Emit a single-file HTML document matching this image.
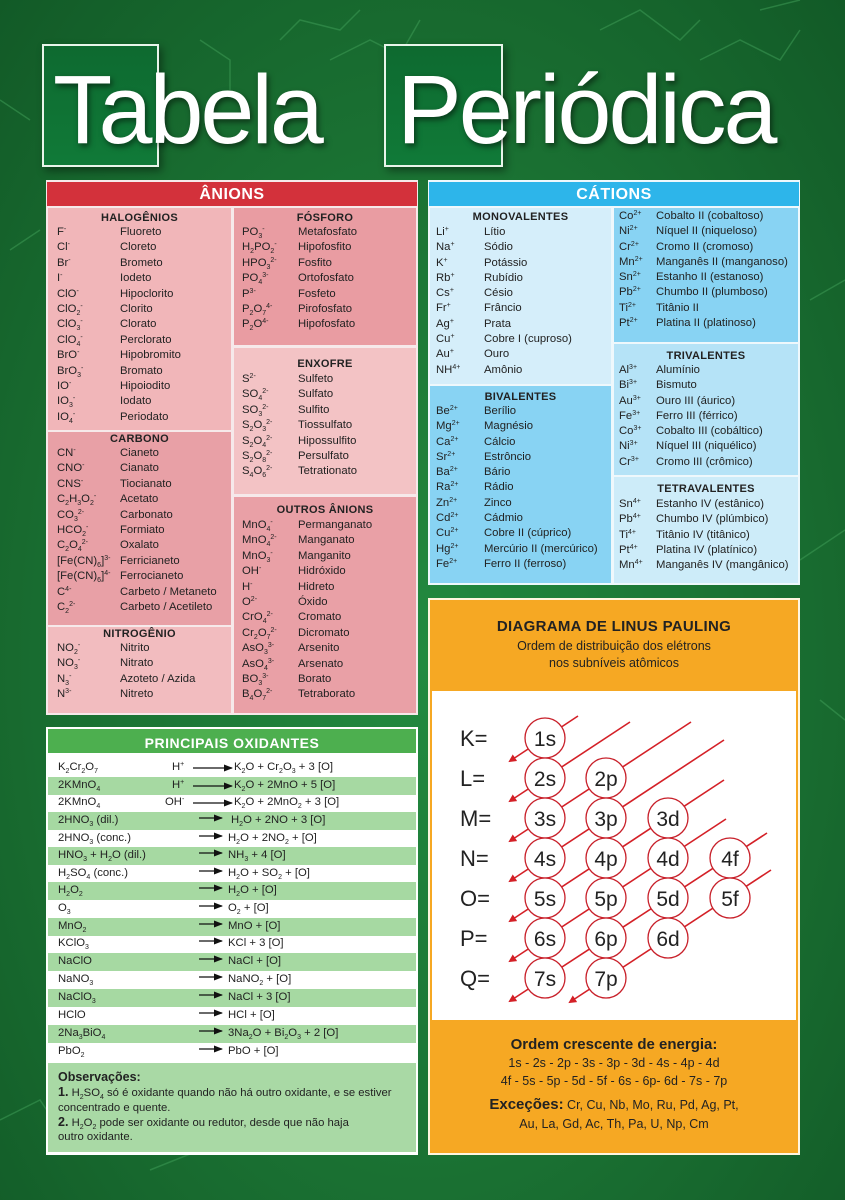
<!DOCTYPE html>
<html><head><meta charset="utf-8"><style>
*{margin:0;padding:0;box-sizing:border-box}
body{width:845px;height:1200px;position:relative;overflow:hidden;font-family:"Liberation Sans",Arial,sans-serif;color:#222;
background:radial-gradient(ellipse at 50% 55%,#238a40 0%,#1c7635 45%,#125a27 100%)}
.abs{position:absolute}
.box{position:absolute}
.col{position:absolute;font-size:11.3px;line-height:15.4px;white-space:nowrap}
.col div{display:flex}
.col div span:first-child{display:inline-block}
.ttl{position:absolute;font-weight:bold;font-size:11px;text-align:center;letter-spacing:.3px;color:#222}
sub{font-size:7px;vertical-align:-3px;line-height:0}
sup{font-size:7px;vertical-align:4px;line-height:0}
.hdr{position:absolute;color:#fff;font-weight:bold;text-align:center;font-size:16px;letter-spacing:.5px}
.ox{position:absolute;left:48px;width:368px;height:17.6px;font-size:11.3px;line-height:17.6px;white-space:nowrap}
.ox.g{background:#a6d9a2}
.ox span{position:absolute}
.t1{position:absolute;color:#fff;font-size:97px;letter-spacing:-3px;line-height:1;text-shadow:2px 3px 6px rgba(0,0,0,.5)}
</style></head><body>
<svg class="abs" style="left:0;top:0" width="845" height="1200">
<g stroke="#3e9a55" stroke-width="1.5" fill="none" opacity=".55">
<path d="M280 40 L300 20 L340 30 L360 10 M330 60 L370 40 L400 55 L420 20"/>
<path d="M600 30 L640 10 L680 40 L700 20 M700 60 L740 40 L780 60 L800 30 M760 10 L800 0"/>
<path d="M0 100 L30 120 M10 250 L40 230"/>
<path d="M810 300 L845 280 M800 560 L845 530 M820 700 L845 720"/>
<path d="M0 1120 L40 1100 L60 1130 M150 1170 L200 1150"/>
<path d="M200 40 L230 60 L230 90"/>
</g>
</svg>
<div class="box" style="left:42px;top:44px;width:117px;height:123px;background:linear-gradient(#0e6a30,#107a38);border:2px solid #e8f5ea;box-shadow:3px 4px 8px rgba(0,0,0,.4)"></div>
<div class="box" style="left:384px;top:44px;width:119px;height:123px;background:linear-gradient(#0e6a30,#107a38);border:2px solid #e8f5ea;box-shadow:3px 4px 8px rgba(0,0,0,.4)"></div>
<div class="t1" style="left:53px;top:61px">Tabela</div>
<div class="t1" style="left:397px;top:61px">Periódica</div>

<div class="box" style="left:46px;top:180px;width:372px;height:535px;background:#f6e9ea"></div>
<div class="box" style="left:47px;top:182px;width:370px;height:24px;background:#d3313b"></div>
<div class="hdr" style="left:47px;top:186px;width:370px">ÂNIONS</div>
<div class="box" style="left:48px;top:208px;width:183px;height:222px;background:#f1b6b9"></div>
<div class="box" style="left:48px;top:432px;width:183px;height:193px;background:#e8a0a6"></div>
<div class="box" style="left:48px;top:627px;width:183px;height:86px;background:#f2bcbf"></div>
<div class="box" style="left:234px;top:208px;width:182px;height:137px;background:#e99ca2"></div>
<div class="box" style="left:234px;top:348px;width:182px;height:146px;background:#f3c3c5"></div>
<div class="box" style="left:234px;top:497px;width:182px;height:216px;background:#e9a0a6"></div>
<div class="ttl" style="left:48px;width:183px;top:212px">HALOGÊNIOS</div>
<div class="ttl" style="left:234px;width:182px;top:212px">FÓSFORO</div>
<div class="ttl" style="left:234px;width:182px;top:358px">ENXOFRE</div>
<div class="ttl" style="left:48px;width:183px;top:433px">CARBONO</div>
<div class="ttl" style="left:48px;width:183px;top:628px">NITROGÊNIO</div>
<div class="ttl" style="left:234px;width:182px;top:504px">OUTROS ÂNIONS</div>

<div class="col" style="left:57px;top:225px">
<div><span style="width:63px">F<sup>-</sup></span><span>Fluoreto</span></div>
<div><span style="width:63px">Cl<sup>-</sup></span><span>Cloreto</span></div>
<div><span style="width:63px">Br<sup>-</sup></span><span>Brometo</span></div>
<div><span style="width:63px">I<sup>-</sup></span><span>Iodeto</span></div>
<div><span style="width:63px">ClO<sup>-</sup></span><span>Hipoclorito</span></div>
<div><span style="width:63px">ClO<sub>2</sub><sup>-</sup></span><span>Clorito</span></div>
<div><span style="width:63px">ClO<sub>3</sub><sup>-</sup></span><span>Clorato</span></div>
<div><span style="width:63px">ClO<sub>4</sub><sup>-</sup></span><span>Perclorato</span></div>
<div><span style="width:63px">BrO<sup>-</sup></span><span>Hipobromito</span></div>
<div><span style="width:63px">BrO<sub>3</sub><sup>-</sup></span><span>Bromato</span></div>
<div><span style="width:63px">IO<sup>-</sup></span><span>Hipoiodito</span></div>
<div><span style="width:63px">IO<sub>3</sub><sup>-</sup></span><span>Iodato</span></div>
<div><span style="width:63px">IO<sub>4</sub><sup>-</sup></span><span>Periodato</span></div>
</div>
<div class="col" style="left:57px;top:446px">
<div><span style="width:63px">CN<sup>-</sup></span><span>Cianeto</span></div>
<div><span style="width:63px">CNO<sup>-</sup></span><span>Cianato</span></div>
<div><span style="width:63px">CNS<sup>-</sup></span><span>Tiocianato</span></div>
<div><span style="width:63px">C<sub>2</sub>H<sub>3</sub>O<sub>2</sub><sup>-</sup></span><span>Acetato</span></div>
<div><span style="width:63px">CO<sub>3</sub><sup>2-</sup></span><span>Carbonato</span></div>
<div><span style="width:63px">HCO<sub>2</sub><sup>-</sup></span><span>Formiato</span></div>
<div><span style="width:63px">C<sub>2</sub>O<sub>4</sub><sup>2-</sup></span><span>Oxalato</span></div>
<div><span style="width:63px">[Fe(CN)<sub>6</sub>]<sup>3-</sup></span><span>Ferricianeto</span></div>
<div><span style="width:63px">[Fe(CN)<sub>6</sub>]<sup>4-</sup></span><span>Ferrocianeto</span></div>
<div><span style="width:63px">C<sup>4-</sup></span><span>Carbeto / Metaneto</span></div>
<div><span style="width:63px">C<sub>2</sub><sup>2-</sup></span><span>Carbeto / Acetileto</span></div>
</div>
<div class="col" style="left:57px;top:641px">
<div><span style="width:63px">NO<sub>2</sub><sup>-</sup></span><span>Nitrito</span></div>
<div><span style="width:63px">NO<sub>3</sub><sup>-</sup></span><span>Nitrato</span></div>
<div><span style="width:63px">N<sub>3</sub><sup>-</sup></span><span>Azoteto / Azida</span></div>
<div><span style="width:63px">N<sup>3-</sup></span><span>Nitreto</span></div>
</div>
<div class="col" style="left:242px;top:225px">
<div><span style="width:56px">PO<sub>3</sub><sup>-</sup></span><span>Metafosfato</span></div>
<div><span style="width:56px">H<sub>2</sub>PO<sub>2</sub><sup>-</sup></span><span>Hipofosfito</span></div>
<div><span style="width:56px">HPO<sub>3</sub><sup>2-</sup></span><span>Fosfito</span></div>
<div><span style="width:56px">PO<sub>4</sub><sup>3-</sup></span><span>Ortofosfato</span></div>
<div><span style="width:56px">P<sup>3-</sup></span><span>Fosfeto</span></div>
<div><span style="width:56px">P<sub>2</sub>O<sub>7</sub><sup>4-</sup></span><span>Pirofosfato</span></div>
<div><span style="width:56px">P<sub>2</sub>O<sup>4-</sup></span><span>Hipofosfato</span></div>
</div>
<div class="col" style="left:242px;top:372px">
<div><span style="width:56px">S<sup>2-</sup></span><span>Sulfeto</span></div>
<div><span style="width:56px">SO<sub>4</sub><sup>2-</sup></span><span>Sulfato</span></div>
<div><span style="width:56px">SO<sub>3</sub><sup>2-</sup></span><span>Sulfito</span></div>
<div><span style="width:56px">S<sub>2</sub>O<sub>3</sub><sup>2-</sup></span><span>Tiossulfato</span></div>
<div><span style="width:56px">S<sub>2</sub>O<sub>4</sub><sup>2-</sup></span><span>Hipossulfito</span></div>
<div><span style="width:56px">S<sub>2</sub>O<sub>8</sub><sup>2-</sup></span><span>Persulfato</span></div>
<div><span style="width:56px">S<sub>4</sub>O<sub>6</sub><sup>2-</sup></span><span>Tetrationato</span></div>
</div>
<div class="col" style="left:242px;top:518px">
<div><span style="width:56px">MnO<sub>4</sub><sup>-</sup></span><span>Permanganato</span></div>
<div><span style="width:56px">MnO<sub>4</sub><sup>2-</sup></span><span>Manganato</span></div>
<div><span style="width:56px">MnO<sub>3</sub><sup>-</sup></span><span>Manganito</span></div>
<div><span style="width:56px">OH<sup>-</sup></span><span>Hidróxido</span></div>
<div><span style="width:56px">H<sup>-</sup></span><span>Hidreto</span></div>
<div><span style="width:56px">O<sup>2-</sup></span><span>Óxido</span></div>
<div><span style="width:56px">CrO<sub>4</sub><sup>2-</sup></span><span>Cromato</span></div>
<div><span style="width:56px">Cr<sub>2</sub>O<sub>7</sub><sup>2-</sup></span><span>Dicromato</span></div>
<div><span style="width:56px">AsO<sub>3</sub><sup>3-</sup></span><span>Arsenito</span></div>
<div><span style="width:56px">AsO<sub>4</sub><sup>3-</sup></span><span>Arsenato</span></div>
<div><span style="width:56px">BO<sub>3</sub><sup>3-</sup></span><span>Borato</span></div>
<div><span style="width:56px">B<sub>4</sub>O<sub>7</sub><sup>2-</sup></span><span>Tetraborato</span></div>
</div>

<div class="box" style="left:428px;top:180px;width:372px;height:405px;background:#eef8fc"></div>
<div class="box" style="left:429px;top:182px;width:370px;height:24px;background:#2db5ea"></div>
<div class="hdr" style="left:429px;top:186px;width:370px">CÁTIONS</div>
<div class="box" style="left:430px;top:208px;width:181px;height:176px;background:#d5eefa"></div>
<div class="box" style="left:430px;top:386px;width:181px;height:197px;background:#88d3f3"></div>
<div class="box" style="left:614px;top:208px;width:184px;height:134px;background:#88d3f3"></div>
<div class="box" style="left:614px;top:344px;width:184px;height:131px;background:#b5e3f7"></div>
<div class="box" style="left:614px;top:477px;width:184px;height:106px;background:#cdecf9"></div>
<div class="ttl" style="left:430px;width:181px;top:211px">MONOVALENTES</div>
<div class="ttl" style="left:430px;width:181px;top:391px">BIVALENTES</div>
<div class="ttl" style="left:614px;width:184px;top:350px">TRIVALENTES</div>
<div class="ttl" style="left:614px;width:184px;top:483px">TETRAVALENTES</div>
<div class="col" style="left:436px;top:225px;line-height:15.3px">
<div><span style="width:48px">Li<sup>+</sup></span><span>Lítio</span></div>
<div><span style="width:48px">Na<sup>+</sup></span><span>Sódio</span></div>
<div><span style="width:48px">K<sup>+</sup></span><span>Potássio</span></div>
<div><span style="width:48px">Rb<sup>+</sup></span><span>Rubídio</span></div>
<div><span style="width:48px">Cs<sup>+</sup></span><span>Césio</span></div>
<div><span style="width:48px">Fr<sup>+</sup></span><span>Frâncio</span></div>
<div><span style="width:48px">Ag<sup>+</sup></span><span>Prata</span></div>
<div><span style="width:48px">Cu<sup>+</sup></span><span>Cobre I (cuproso)</span></div>
<div><span style="width:48px">Au<sup>+</sup></span><span>Ouro</span></div>
<div><span style="width:48px">NH<sup>4+</sup></span><span>Amônio</span></div>
</div>
<div class="col" style="left:436px;top:404px;line-height:15.3px">
<div><span style="width:48px">Be<sup>2+</sup></span><span>Berílio</span></div>
<div><span style="width:48px">Mg<sup>2+</sup></span><span>Magnésio</span></div>
<div><span style="width:48px">Ca<sup>2+</sup></span><span>Cálcio</span></div>
<div><span style="width:48px">Sr<sup>2+</sup></span><span>Estrôncio</span></div>
<div><span style="width:48px">Ba<sup>2+</sup></span><span>Bário</span></div>
<div><span style="width:48px">Ra<sup>2+</sup></span><span>Rádio</span></div>
<div><span style="width:48px">Zn<sup>2+</sup></span><span>Zinco</span></div>
<div><span style="width:48px">Cd<sup>2+</sup></span><span>Cádmio</span></div>
<div><span style="width:48px">Cu<sup>2+</sup></span><span>Cobre II (cúprico)</span></div>
<div><span style="width:48px">Hg<sup>2+</sup></span><span>Mercúrio II (mercúrico)</span></div>
<div><span style="width:48px">Fe<sup>2+</sup></span><span>Ferro II (ferroso)</span></div>
</div>
<div class="col" style="left:619px;top:209px;line-height:15.3px">
<div><span style="width:37px">Co<sup>2+</sup></span><span>Cobalto II (cobaltoso)</span></div>
<div><span style="width:37px">Ni<sup>2+</sup></span><span>Níquel II (niqueloso)</span></div>
<div><span style="width:37px">Cr<sup>2+</sup></span><span>Cromo II (cromoso)</span></div>
<div><span style="width:37px">Mn<sup>2+</sup></span><span>Manganês II (manganoso)</span></div>
<div><span style="width:37px">Sn<sup>2+</sup></span><span>Estanho II (estanoso)</span></div>
<div><span style="width:37px">Pb<sup>2+</sup></span><span>Chumbo II (plumboso)</span></div>
<div><span style="width:37px">Ti<sup>2+</sup></span><span>Titânio II</span></div>
<div><span style="width:37px">Pt<sup>2+</sup></span><span>Platina II (platinoso)</span></div>
</div>
<div class="col" style="left:619px;top:363px;line-height:15.3px">
<div><span style="width:37px">Al<sup>3+</sup></span><span>Alumínio</span></div>
<div><span style="width:37px">Bi<sup>3+</sup></span><span>Bismuto</span></div>
<div><span style="width:37px">Au<sup>3+</sup></span><span>Ouro III (áurico)</span></div>
<div><span style="width:37px">Fe<sup>3+</sup></span><span>Ferro III (férrico)</span></div>
<div><span style="width:37px">Co<sup>3+</sup></span><span>Cobalto III (cobáltico)</span></div>
<div><span style="width:37px">Ni<sup>3+</sup></span><span>Níquel III (niquélico)</span></div>
<div><span style="width:37px">Cr<sup>3+</sup></span><span>Cromo III (crômico)</span></div>
</div>
<div class="col" style="left:619px;top:497px;line-height:15.3px">
<div><span style="width:37px">Sn<sup>4+</sup></span><span>Estanho IV (estânico)</span></div>
<div><span style="width:37px">Pb<sup>4+</sup></span><span>Chumbo IV (plúmbico)</span></div>
<div><span style="width:37px">Ti<sup>4+</sup></span><span>Titânio IV (titânico)</span></div>
<div><span style="width:37px">Pt<sup>4+</sup></span><span>Platina IV (platínico)</span></div>
<div><span style="width:37px">Mn<sup>4+</sup></span><span>Manganês IV (mangânico)</span></div>
</div>

<div class="box" style="left:428px;top:598px;width:372px;height:557px;background:#f6a823;border:2px solid #fff6e0"></div>
<div class="box" style="left:432px;top:691px;width:364px;height:329px;background:#fff"></div>
<div class="abs" style="left:430px;width:368px;top:618px;text-align:center;font-weight:bold;font-size:15px;letter-spacing:.3px;color:#222">DIAGRAMA DE LINUS PAULING</div>
<div class="abs" style="left:430px;width:368px;top:638px;text-align:center;font-size:12.5px;line-height:17px;color:#222">Ordem de distribuição dos elétrons<br>nos subníveis atômicos</div>
<svg class="abs" style="left:0;top:0" width="845" height="1200">
<defs><marker id="ar" markerWidth="8" markerHeight="8" refX="6" refY="4" orient="auto" markerUnits="userSpaceOnUse"><path d="M0 0 L8 4 L0 8 z" fill="#d42027"/></marker></defs>
<g stroke="#d42027" stroke-width="1.6" fill="none">
<line x1="578" y1="716" x2="510" y2="761" marker-end="url(#ar)"/>
<line x1="630" y1="722" x2="510" y2="801" marker-end="url(#ar)"/>
<line x1="691" y1="722" x2="510" y2="841" marker-end="url(#ar)"/>
<line x1="724" y1="740" x2="510" y2="881" marker-end="url(#ar)"/>
<line x1="724" y1="780" x2="510" y2="921" marker-end="url(#ar)"/>
<line x1="726" y1="819" x2="510" y2="961" marker-end="url(#ar)"/>
<line x1="767" y1="833" x2="510" y2="1001" marker-end="url(#ar)"/>
<line x1="771" y1="870" x2="570" y2="1002" marker-end="url(#ar)"/>
</g>
<g stroke="#c8202a" stroke-width="1.3" fill="#fff">
<circle cx="545" cy="738" r="20"/>
<circle cx="545" cy="778" r="20"/><circle cx="606" cy="778" r="20"/>
<circle cx="545" cy="818" r="20"/><circle cx="606" cy="818" r="20"/><circle cx="668" cy="818" r="20"/>
<circle cx="545" cy="858" r="20"/><circle cx="606" cy="858" r="20"/><circle cx="668" cy="858" r="20"/><circle cx="730" cy="858" r="20"/>
<circle cx="545" cy="898" r="20"/><circle cx="606" cy="898" r="20"/><circle cx="668" cy="898" r="20"/><circle cx="730" cy="898" r="20"/>
<circle cx="545" cy="938" r="20"/><circle cx="606" cy="938" r="20"/><circle cx="668" cy="938" r="20"/>
<circle cx="545" cy="978" r="20"/><circle cx="606" cy="978" r="20"/>
</g>
<g font-family="Liberation Sans, Arial, sans-serif" font-size="21" fill="#222" text-anchor="middle">
<text x="545" y="746">1s</text>
<text x="545" y="786">2s</text><text x="606" y="786">2p</text>
<text x="545" y="826">3s</text><text x="606" y="826">3p</text><text x="668" y="826">3d</text>
<text x="545" y="866">4s</text><text x="606" y="866">4p</text><text x="668" y="866">4d</text><text x="730" y="866">4f</text>
<text x="545" y="906">5s</text><text x="606" y="906">5p</text><text x="668" y="906">5d</text><text x="730" y="906">5f</text>
<text x="545" y="946">6s</text><text x="606" y="946">6p</text><text x="668" y="946">6d</text>
<text x="545" y="986">7s</text><text x="606" y="986">7p</text>
</g>
<g font-family="Liberation Sans, Arial, sans-serif" font-size="22" fill="#222">
<text x="460" y="746">K=</text><text x="460" y="786">L=</text><text x="460" y="826">M=</text><text x="460" y="866">N=</text><text x="460" y="906">O=</text><text x="460" y="946">P=</text><text x="460" y="986">Q=</text>
</g>
</svg>
<div class="abs" style="left:430px;width:368px;top:1036px;text-align:center;font-weight:bold;font-size:15px;color:#222">Ordem crescente de energia:</div>
<div class="abs" style="left:430px;width:368px;top:1054px;text-align:center;font-size:12.5px;line-height:18px;color:#222">1s - 2s - 2p - 3s - 3p - 3d - 4s - 4p - 4d<br>4f - 5s - 5p - 5d - 5f - 6s - 6p- 6d - 7s - 7p</div>
<div class="abs" style="left:430px;width:368px;top:1095px;text-align:center;font-size:12.5px;line-height:19px;color:#222"><b style="font-size:15px">Exceções:</b> Cr, Cu, Nb, Mo, Ru, Pd, Ag, Pt,<br>Au, La, Gd, Ac, Th, Pa, U, Np, Cm</div>

<div class="box" style="left:46px;top:727px;width:372px;height:428px;background:#fff"></div>
<div class="box" style="left:48px;top:729px;width:368px;height:24px;background:#4daf4f"></div>
<div class="hdr" style="left:48px;top:735px;width:368px;font-size:14px">PRINCIPAIS OXIDANTES</div>
<svg class="abs" style="left:0;top:0;z-index:2" width="845" height="1200">
<defs><marker id="ak" markerWidth="9" markerHeight="7" refX="8" refY="3.5" orient="auto" markerUnits="userSpaceOnUse"><path d="M0 0 L9 3.5 L0 7 z" fill="#111"/></marker></defs>
<g stroke="#111" stroke-width="1.2">
<line x1="193" y1="768" x2="232" y2="768" marker-end="url(#ak)"/>
<line x1="193" y1="786" x2="232" y2="786" marker-end="url(#ak)"/>
<line x1="193" y1="803" x2="232" y2="803" marker-end="url(#ak)"/>
<line x1="199" y1="818" x2="222" y2="818" marker-end="url(#ak)"/>
<line x1="199" y1="836" x2="222" y2="836" marker-end="url(#ak)"/>
<line x1="199" y1="853" x2="222" y2="853" marker-end="url(#ak)"/>
<line x1="199" y1="871" x2="222" y2="871" marker-end="url(#ak)"/>
<line x1="199" y1="888" x2="222" y2="888" marker-end="url(#ak)"/>
<line x1="199" y1="906" x2="222" y2="906" marker-end="url(#ak)"/>
<line x1="199" y1="924" x2="222" y2="924" marker-end="url(#ak)"/>
<line x1="199" y1="941" x2="222" y2="941" marker-end="url(#ak)"/>
<line x1="199" y1="959" x2="222" y2="959" marker-end="url(#ak)"/>
<line x1="199" y1="977" x2="222" y2="977" marker-end="url(#ak)"/>
<line x1="199" y1="995" x2="222" y2="995" marker-end="url(#ak)"/>
<line x1="199" y1="1013" x2="222" y2="1013" marker-end="url(#ak)"/>
<line x1="199" y1="1031" x2="222" y2="1031" marker-end="url(#ak)"/>
<line x1="199" y1="1049" x2="222" y2="1049" marker-end="url(#ak)"/>
</g></svg>
<div class="ox" style="top:759px"><span style="left:10px">K<sub>2</sub>Cr<sub>2</sub>O<sub>7</sub></span><span style="left:124px">H<sup>+</sup></span><span style="left:186px">K<sub>2</sub>O + Cr<sub>2</sub>O<sub>3</sub> + 3 [O]</span></div>
<div class="ox g" style="top:777px"><span style="left:10px">2KMnO<sub>4</sub></span><span style="left:124px">H<sup>+</sup></span><span style="left:186px">K<sub>2</sub>O + 2MnO + 5 [O]</span></div>
<div class="ox" style="top:794px"><span style="left:10px">2KMnO<sub>4</sub></span><span style="left:117px">OH<sup>-</sup></span><span style="left:186px">K<sub>2</sub>O + 2MnO<sub>2</sub> + 3 [O]</span></div>
<div class="ox g" style="top:812px"><span style="left:10px">2HNO<sub>3</sub> (dil.)</span><span style="left:183px">H<sub>2</sub>O + 2NO + 3 [O]</span></div>
<div class="ox" style="top:830px"><span style="left:10px">2HNO<sub>3</sub> (conc.)</span><span style="left:180px">H<sub>2</sub>O + 2NO<sub>2</sub> + [O]</span></div>
<div class="ox g" style="top:847px"><span style="left:10px">HNO<sub>3</sub> + H<sub>2</sub>O (dil.)</span><span style="left:180px">NH<sub>3</sub> + 4 [O]</span></div>
<div class="ox" style="top:865px"><span style="left:10px">H<sub>2</sub>SO<sub>4</sub> (conc.)</span><span style="left:180px">H<sub>2</sub>O + SO<sub>2</sub> + [O]</span></div>
<div class="ox g" style="top:882px"><span style="left:10px">H<sub>2</sub>O<sub>2</sub></span><span style="left:180px">H<sub>2</sub>O + [O]</span></div>
<div class="ox" style="top:900px"><span style="left:10px">O<sub>3</sub></span><span style="left:180px">O<sub>2</sub> + [O]</span></div>
<div class="ox g" style="top:918px"><span style="left:10px">MnO<sub>2</sub></span><span style="left:180px">MnO + [O]</span></div>
<div class="ox" style="top:935px"><span style="left:10px">KClO<sub>3</sub></span><span style="left:180px">KCl + 3 [O]</span></div>
<div class="ox g" style="top:953px"><span style="left:10px">NaClO</span><span style="left:180px">NaCl + [O]</span></div>
<div class="ox" style="top:971px"><span style="left:10px">NaNO<sub>3</sub></span><span style="left:180px">NaNO<sub>2</sub> + [O]</span></div>
<div class="ox g" style="top:989px"><span style="left:10px">NaClO<sub>3</sub></span><span style="left:180px">NaCl + 3 [O]</span></div>
<div class="ox" style="top:1007px"><span style="left:10px">HClO</span><span style="left:180px">HCl + [O]</span></div>
<div class="ox g" style="top:1025px"><span style="left:10px">2Na<sub>3</sub>BiO<sub>4</sub></span><span style="left:180px">3Na<sub>2</sub>O + Bi<sub>2</sub>O<sub>3</sub> + 2 [O]</span></div>
<div class="ox" style="top:1043px"><span style="left:10px">PbO<sub>2</sub></span><span style="left:180px">PbO + [O]</span></div>
<div class="box" style="left:48px;top:1063px;width:368px;height:89px;background:#a9d9a5"></div>
<div class="abs" style="left:58px;top:1070px;width:355px;font-size:11.3px;line-height:14.3px;color:#222"><b style="font-size:12.5px">Observações:</b><br><b style="font-size:12.5px">1.</b> H<sub>2</sub>SO<sub>4</sub> só é oxidante quando não há outro oxidante, e se estiver concentrado e quente.<br><b style="font-size:12.5px">2.</b> H<sub>2</sub>O<sub>2</sub> pode ser oxidante ou redutor, desde que não haja<br>outro oxidante.</div>
</body></html>
